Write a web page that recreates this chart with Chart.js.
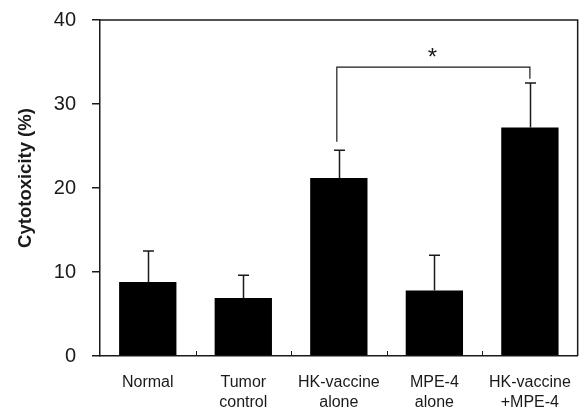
<!DOCTYPE html>
<html>
<head>
<meta charset="utf-8">
<script src="https://cdn.jsdelivr.net/npm/chart.js@4/dist/chart.umd.min.js"></script>
<style>
  html, body { margin: 0; padding: 0; background: #fff; }
  #wrap { width: 580px; height: 409px; }
</style>
</head>
<body>
<div id="wrap"><canvas id="c" width="580" height="409"></canvas></div>
<script>
const categories = [["Normal"], ["Tumor", "control"], ["HK-vaccine", "alone"], ["MPE-4", "alone"], ["HK-vaccine", "+MPE-4"]];
const cytotoxicity = [8.8, 6.9, 21.2, 7.8, 27.2];
const errorTops = [12.5, 9.6, 24.5, 12.0, 32.5];
const yTicks = [0, 10, 20, 30, 40];
const yTitle = "Cytotoxicity (%)";
// significance bracket: [fromIndex, toIndex], left end, right end, bar level, star level
const bracketPair = [2, 4];
const bracketEnds = [25.5, 33.0];
const bracketLevel = 34.4;
const starLevel = 36.0;
const starText = "*";

const ink = '#1a1a1a';

const overlay = {
  id: 'overlay',
  afterDatasetsDraw(chart) {
    const ctx = chart.ctx;
    const x = chart.scales.x, y = chart.scales.y;
    const a = chart.chartArea;
    ctx.save();
    ctx.strokeStyle = ink;
    ctx.lineWidth = 1.5;
    // error bars
    const meta = chart.getDatasetMeta(0);
    meta.data.forEach((bar, i) => {
      const cx = Math.round(bar.x) + 0.5;
      const yt = y.getPixelForValue(errorTops[i]);
      ctx.beginPath();
      ctx.moveTo(cx, bar.y);
      ctx.lineTo(cx, yt);
      ctx.moveTo(cx - 5.5, yt);
      ctx.lineTo(cx + 5.5, yt);
      ctx.stroke();
    });
    // category boundary ticks (inside)
    ctx.lineWidth = 1;
    for (let i = 1; i < categories.length; i++) {
      const bx = Math.round((x.getPixelForValue(i - 1) + x.getPixelForValue(i)) / 2) + 0.5;
      ctx.beginPath();
      ctx.moveTo(bx, a.bottom);
      ctx.lineTo(bx, a.bottom - 5);
      ctx.stroke();
    }
    // frame top and right
    ctx.lineWidth = 1.5;
    ctx.beginPath();
    ctx.moveTo(a.left, a.top);
    ctx.lineTo(a.right, a.top);
    ctx.lineTo(a.right, a.bottom);
    ctx.stroke();
    // bracket
    ctx.lineWidth = 1.2;
    const x1 = x.getPixelForValue(bracketPair[0]) - 2;
    const x2 = x.getPixelForValue(bracketPair[1]);
    const yl = y.getPixelForValue(bracketLevel);
    ctx.beginPath();
    ctx.moveTo(x1, y.getPixelForValue(bracketEnds[0]));
    ctx.lineTo(x1, yl);
    ctx.lineTo(x2, yl);
    ctx.lineTo(x2, y.getPixelForValue(bracketEnds[1]));
    ctx.stroke();
    ctx.fillStyle = ink;
    ctx.font = '24px "Liberation Sans", Arial, sans-serif';
    ctx.textAlign = 'center';
    ctx.textBaseline = 'middle';
    ctx.fillText(starText, (x1 + x2) / 2 - 1, y.getPixelForValue(starLevel) + 5);
    // y-axis title
    ctx.save();
    ctx.translate(26, (a.top + a.bottom) / 2 - 10);
    ctx.rotate(-Math.PI / 2);
    ctx.font = 'bold 18.5px "Liberation Sans", Arial, sans-serif';
    ctx.textAlign = 'center';
    ctx.textBaseline = 'middle';
    ctx.fillText(yTitle, 0, 0);
    ctx.restore();
    ctx.restore();
  }
};

new Chart(document.getElementById('c'), {
  type: 'bar',
  data: {
    labels: categories,
    datasets: [{
      data: cytotoxicity,
      backgroundColor: '#000',
      borderWidth: 0,
      barPercentage: 0.6,
      categoryPercentage: 1.0
    }]
  },
  options: {
    responsive: false,
    animation: false,
    devicePixelRatio: 1,
    layout: { padding: { left: 0, right: 2, top: 20, bottom: 0 } },
    plugins: { legend: { display: false }, tooltip: { enabled: false } },
    scales: {
      x: {
        grid: { display: false },
        border: { display: true, color: ink, width: 1.5 },
        ticks: {
          color: ink,
          padding: 9,
          maxRotation: 0,
          autoSkip: false,
          font: { family: '"Liberation Sans", Arial, sans-serif', size: 16, lineHeight: 1.25 }
        },
        afterFit(s) { s.height = 53; }
      },
      y: {
        min: 0, max: 40,
        afterBuildTicks(s) { s.ticks = yTicks.map(v => ({ value: v })); },
        grid: { display: true, drawOnChartArea: false, drawTicks: true, tickLength: 8, color: ink, lineWidth: 1.5 },
        border: { display: true, color: ink, width: 1.5 },
        ticks: {
          color: ink,
          padding: 16,
          font: { family: '"Liberation Sans", Arial, sans-serif', size: 20 }
        },
        title: { display: false },
        afterFit(s) { s.width = 100; s.paddingTop = 0; s.paddingBottom = 0; }
      }
    }
  },
  plugins: [overlay]
});
</script>
</body>
</html>
